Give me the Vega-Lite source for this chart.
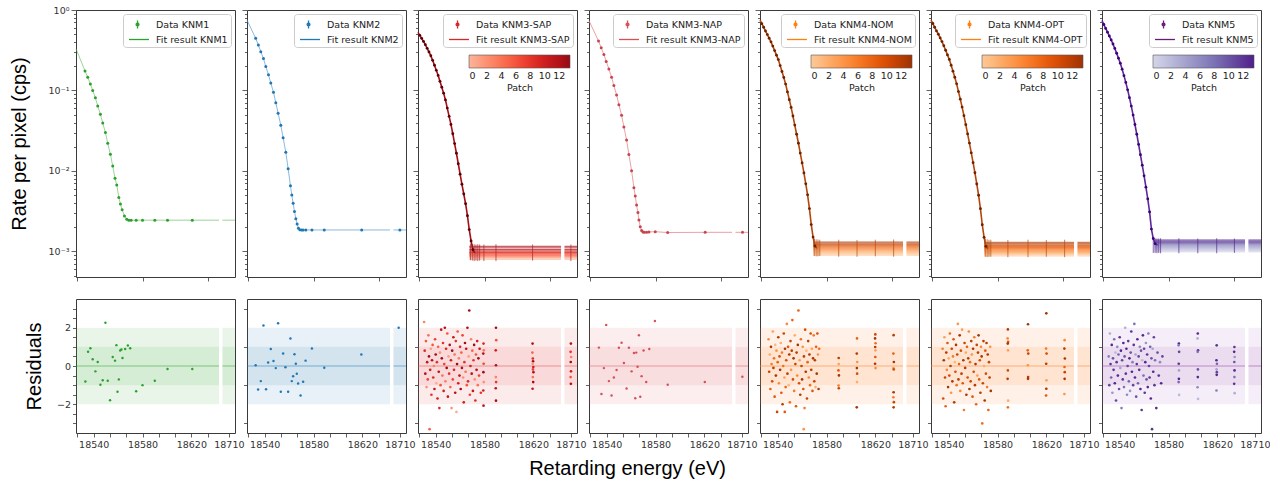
{
"$schema":"https://vega.github.io/schema/vega-lite/v6.json",
"background":"white",
"padding":{"left":8,"top":4,"right":5,"bottom":5},
"title":{"text":"Retarding energy (eV)","orient":"bottom","anchor":"middle","fontSize":20,"font":"Liberation Sans","fontWeight":"normal","color":"#000","offset":10,"dx":-12},
"config":{
 "view":{"stroke":"#3a3a3a","strokeWidth":1},
 "axis":{"domain":false,"grid":false,"tickColor":"#3a3a3a","tickWidth":0.8,"labelColor":"#333","labelFont":"DejaVu Sans","labelFontSize":9.5,"labelFlush":false,"labelPadding":2,"titleFont":"Liberation Sans","titleFontSize":20,"titleFontWeight":"normal","titleColor":"#000"}
},
"datasets":{
 "bands":[{"x1":18525.5,"x2":18642.7,"lo":-2,"hi":2},{"x1":18525.5,"x2":18642.7,"lo":-1,"hi":1},{"x1":18682,"x2":18715,"lo":-2,"hi":2},{"x1":18682,"x2":18715,"lo":-1,"hi":1}],
 "t1":[{"e":18525.5,"r":0.33,"s":1,"d":0},{"e":18532.9,"r":0.175,"s":1,"d":1},{"e":18535.1,"r":0.146,"s":1,"d":1},{"e":18537.3,"r":0.12,"s":1,"d":1},{"e":18539.2,"r":0.1,"s":1,"d":1},{"e":18541.4,"r":0.081,"s":1,"d":1},{"e":18543.3,"r":0.064,"s":1,"d":1},{"e":18545.5,"r":0.0506,"s":1,"d":1},{"e":18547.4,"r":0.0395,"s":1,"d":1},{"e":18549.6,"r":0.03,"s":1,"d":1},{"e":18551.5,"r":0.0221,"s":1,"d":1},{"e":18553.7,"r":0.0161,"s":1,"d":1},{"e":18555.6,"r":0.0115,"s":1,"d":1},{"e":18557.5,"r":0.0081,"s":1,"d":1},{"e":18558.9,"r":0.0067,"s":1,"d":1},{"e":18560.6,"r":0.0047,"s":1,"d":1},{"e":18561.9,"r":0.0039,"s":1,"d":1},{"e":18563.3,"r":0.0033,"s":1,"d":1},{"e":18565.2,"r":0.00276,"s":1,"d":1},{"e":18567.1,"r":0.00251,"s":1,"d":1},{"e":18568.8,"r":0.00245,"s":1,"d":1},{"e":18570.7,"r":0.00245,"s":1,"d":1},{"e":18574.8,"r":0.00245,"s":1,"d":1},{"e":18580,"r":0.00245,"s":1,"d":1},{"e":18590.1,"r":0.00245,"s":1,"d":1},{"e":18600.5,"r":0.00245,"s":1,"d":1},{"e":18620.8,"r":0.00245,"s":1,"d":1},{"e":18642.7,"r":0.00245,"s":1,"d":0},{"e":18682,"r":0.00245,"s":2,"d":0},{"e":18715,"r":0.00245,"s":2,"d":0}],
 "t2":[{"e":18525.5,"r":0.75,"s":1,"d":0},{"e":18532.6,"r":0.445,"s":1,"d":1},{"e":18534.8,"r":0.367,"s":1,"d":1},{"e":18536.8,"r":0.304,"s":1,"d":1},{"e":18539,"r":0.249,"s":1,"d":1},{"e":18540.9,"r":0.198,"s":1,"d":1},{"e":18543.1,"r":0.157,"s":1,"d":1},{"e":18545,"r":0.124,"s":1,"d":1},{"e":18547.2,"r":0.0949,"s":1,"d":1},{"e":18549.1,"r":0.0706,"s":1,"d":1},{"e":18551,"r":0.052,"s":1,"d":1},{"e":18553.2,"r":0.0369,"s":1,"d":1},{"e":18555.1,"r":0.0259,"s":1,"d":1},{"e":18557.3,"r":0.0171,"s":1,"d":1},{"e":18559.2,"r":0.0107,"s":1,"d":1},{"e":18561.1,"r":0.00657,"s":1,"d":1},{"e":18562.2,"r":0.00503,"s":1,"d":1},{"e":18563.3,"r":0.00397,"s":1,"d":1},{"e":18564.4,"r":0.00313,"s":1,"d":1},{"e":18565.5,"r":0.00256,"s":1,"d":1},{"e":18566.6,"r":0.0022,"s":1,"d":1},{"e":18567.7,"r":0.00194,"s":1,"d":1},{"e":18568.8,"r":0.00186,"s":1,"d":1},{"e":18570.2,"r":0.00185,"s":1,"d":1},{"e":18571.5,"r":0.00185,"s":1,"d":1},{"e":18573.7,"r":0.00185,"s":1,"d":1},{"e":18578.7,"r":0.00185,"s":1,"d":1},{"e":18588.8,"r":0.00185,"s":1,"d":1},{"e":18619.5,"r":0.00185,"s":1,"d":1},{"e":18642.7,"r":0.00185,"s":1,"d":0},{"e":18682,"r":0.00185,"s":2,"d":0},{"e":18710,"r":0.00185,"s":2,"d":1},{"e":18715,"r":0.00185,"s":2,"d":0}],
 "t4":[{"e":18525.5,"r":0.737,"s":1,"d":0},{"e":18533.3,"r":0.412,"s":1,"d":1},{"e":18535.5,"r":0.34,"s":1,"d":1},{"e":18537.7,"r":0.281,"s":1,"d":1},{"e":18539.6,"r":0.23,"s":1,"d":1},{"e":18541.8,"r":0.185,"s":1,"d":1},{"e":18544,"r":0.146,"s":1,"d":1},{"e":18545.9,"r":0.115,"s":1,"d":1},{"e":18548.1,"r":0.0879,"s":1,"d":1},{"e":18550,"r":0.0667,"s":1,"d":1},{"e":18552.2,"r":0.0492,"s":1,"d":1},{"e":18554.1,"r":0.0352,"s":1,"d":1},{"e":18556.3,"r":0.0243,"s":1,"d":1},{"e":18558.2,"r":0.016,"s":1,"d":1},{"e":18560.4,"r":0.0101,"s":1,"d":1},{"e":18562.3,"r":0.00621,"s":1,"d":1},{"e":18563.4,"r":0.00489,"s":1,"d":1},{"e":18564.5,"r":0.00378,"s":1,"d":1},{"e":18565.6,"r":0.00304,"s":1,"d":1},{"e":18566.4,"r":0.00246,"s":1,"d":1},{"e":18567.5,"r":0.00203,"s":1,"d":1},{"e":18568.6,"r":0.00182,"s":1,"d":1},{"e":18569.7,"r":0.00175,"s":1,"d":1},{"e":18570.8,"r":0.00173,"s":1,"d":1},{"e":18572.7,"r":0.00173,"s":1,"d":1},{"e":18574.6,"r":0.00175,"s":1,"d":1},{"e":18579.8,"r":0.00176,"s":1,"d":1},{"e":18590,"r":0.00172,"s":1,"d":1},{"e":18620.7,"r":0.00173,"s":1,"d":1},{"e":18642.7,"r":0.00173,"s":1,"d":0},{"e":18682,"r":0.00173,"s":2,"d":0},{"e":18710.5,"r":0.00173,"s":2,"d":1},{"e":18715,"r":0.00173,"s":2,"d":0}],
 "c3":[{"e":18525.5,"r":0.528,"d":0},{"e":18527,"r":0.484,"d":1},{"e":18528.5,"r":0.445,"d":1},{"e":18530,"r":0.407,"d":1},{"e":18531.5,"r":0.371,"d":1},{"e":18533,"r":0.334,"d":1},{"e":18534.5,"r":0.301,"d":1},{"e":18536,"r":0.27,"d":1},{"e":18537.5,"r":0.237,"d":1},{"e":18539,"r":0.206,"d":1},{"e":18540.5,"r":0.178,"d":1},{"e":18542,"r":0.154,"d":1},{"e":18543.5,"r":0.13,"d":1},{"e":18545,"r":0.11,"d":1},{"e":18546.5,"r":0.0927,"d":1},{"e":18548,"r":0.0763,"d":1},{"e":18549.5,"r":0.0604,"d":1},{"e":18551,"r":0.0478,"d":1},{"e":18552.5,"r":0.0379,"d":1},{"e":18554,"r":0.029,"d":1},{"e":18555.5,"r":0.0219,"d":1},{"e":18557,"r":0.0166,"d":1},{"e":18558.5,"r":0.0123,"d":1},{"e":18560,"r":0.00914,"d":1},{"e":18561.5,"r":0.00684,"d":1},{"e":18563,"r":0.00518,"d":1},{"e":18564.5,"r":0.00392,"d":1},{"e":18566,"r":0.00278,"d":1},{"e":18567.5,"r":0.00187,"d":1},{"e":18569,"r":0.00135,"d":1},{"e":18570.5,"r":0.00105,"d":1},{"e":18572,"r":0.00096,"d":0}],
 "c5":[{"e":18525.5,"r":0.75,"d":0},{"e":18527,"r":0.676,"d":1},{"e":18528.5,"r":0.61,"d":1},{"e":18530,"r":0.549,"d":1},{"e":18531.5,"r":0.495,"d":1},{"e":18533,"r":0.446,"d":1},{"e":18534.5,"r":0.402,"d":1},{"e":18536,"r":0.356,"d":1},{"e":18537.5,"r":0.313,"d":1},{"e":18539,"r":0.275,"d":1},{"e":18540.5,"r":0.242,"d":1},{"e":18542,"r":0.204,"d":1},{"e":18543.5,"r":0.172,"d":1},{"e":18545,"r":0.145,"d":1},{"e":18546.5,"r":0.12,"d":1},{"e":18548,"r":0.096,"d":1},{"e":18549.5,"r":0.0769,"d":1},{"e":18551,"r":0.0617,"d":1},{"e":18552.5,"r":0.0482,"d":1},{"e":18554,"r":0.0372,"d":1},{"e":18555.5,"r":0.0286,"d":1},{"e":18557,"r":0.0221,"d":1},{"e":18558.5,"r":0.0167,"d":1},{"e":18560,"r":0.0126,"d":1},{"e":18561.5,"r":0.00946,"d":1},{"e":18563,"r":0.00692,"d":1},{"e":18564.5,"r":0.00505,"d":1},{"e":18566,"r":0.00341,"d":1},{"e":18567.5,"r":0.00216,"d":1},{"e":18569,"r":0.00151,"d":1},{"e":18570.5,"r":0.00117,"d":1},{"e":18572,"r":0.0011,"d":0}],
 "c6":[{"e":18525.5,"r":0.75,"d":0},{"e":18527,"r":0.68,"d":1},{"e":18528.5,"r":0.61,"d":1},{"e":18530,"r":0.55,"d":1},{"e":18531.5,"r":0.5,"d":1},{"e":18533,"r":0.45,"d":1},{"e":18534.5,"r":0.405,"d":1},{"e":18536,"r":0.36,"d":1},{"e":18537.5,"r":0.316,"d":1},{"e":18539,"r":0.277,"d":1},{"e":18540.5,"r":0.243,"d":1},{"e":18542,"r":0.206,"d":1},{"e":18543.5,"r":0.174,"d":1},{"e":18545,"r":0.146,"d":1},{"e":18546.5,"r":0.121,"d":1},{"e":18548,"r":0.097,"d":1},{"e":18549.5,"r":0.078,"d":1},{"e":18551,"r":0.0622,"d":1},{"e":18552.5,"r":0.0487,"d":1},{"e":18554,"r":0.0376,"d":1},{"e":18555.5,"r":0.0289,"d":1},{"e":18557,"r":0.0222,"d":1},{"e":18558.5,"r":0.0168,"d":1},{"e":18560,"r":0.0127,"d":1},{"e":18561.5,"r":0.0095,"d":1},{"e":18563,"r":0.0069,"d":1},{"e":18564.5,"r":0.005,"d":1},{"e":18566,"r":0.0034,"d":1},{"e":18567.5,"r":0.00215,"d":1},{"e":18569,"r":0.0015,"d":1},{"e":18570.5,"r":0.00116,"d":1},{"e":18572,"r":0.00108,"d":0}],
 "c7":[{"e":18525.5,"r":0.74,"d":0},{"e":18527,"r":0.66,"d":1},{"e":18528.5,"r":0.59,"d":1},{"e":18530,"r":0.53,"d":1},{"e":18531.5,"r":0.475,"d":1},{"e":18533,"r":0.425,"d":1},{"e":18534.5,"r":0.378,"d":1},{"e":18536,"r":0.333,"d":1},{"e":18537.5,"r":0.29,"d":1},{"e":18539,"r":0.252,"d":1},{"e":18540.5,"r":0.218,"d":1},{"e":18542,"r":0.184,"d":1},{"e":18543.5,"r":0.153,"d":1},{"e":18545,"r":0.126,"d":1},{"e":18546.5,"r":0.102,"d":1},{"e":18548,"r":0.0815,"d":1},{"e":18549.5,"r":0.064,"d":1},{"e":18551,"r":0.0495,"d":1},{"e":18552.5,"r":0.0378,"d":1},{"e":18554,"r":0.0286,"d":1},{"e":18555.5,"r":0.0214,"d":1},{"e":18557,"r":0.0159,"d":1},{"e":18558.5,"r":0.0118,"d":1},{"e":18560,"r":0.0087,"d":1},{"e":18561.5,"r":0.0063,"d":1},{"e":18563,"r":0.0045,"d":1},{"e":18564.5,"r":0.0031,"d":1},{"e":18566,"r":0.0019,"d":1},{"e":18567.5,"r":0.00145,"d":1},{"e":18569,"r":0.00125,"d":1},{"e":18571,"r":0.0012,"d":0}],
 "p3":[{"p":0,"v":0.0008},{"p":1,"v":0.00083},{"p":2,"v":0.00085},{"p":3,"v":0.00087},{"p":4,"v":0.00089},{"p":5,"v":0.00091},{"p":6,"v":0.00093},{"p":7,"v":0.00095},{"p":8,"v":0.00097},{"p":9,"v":0.00099},{"p":10,"v":0.00102},{"p":11,"v":0.00106},{"p":12,"v":0.00111},{"p":13,"v":0.00116}],
 "p5":[{"p":0,"v":0.0009},{"p":1,"v":0.00093},{"p":2,"v":0.00096},{"p":3,"v":0.00099},{"p":4,"v":0.00102},{"p":5,"v":0.00105},{"p":6,"v":0.00108},{"p":7,"v":0.00111},{"p":8,"v":0.00114},{"p":9,"v":0.00117},{"p":10,"v":0.0012},{"p":11,"v":0.00123},{"p":12,"v":0.00127},{"p":13,"v":0.00131}],
 "p6":[{"p":0,"v":0.00088},{"p":1,"v":0.00091},{"p":2,"v":0.00094},{"p":3,"v":0.00097},{"p":4,"v":0.001},{"p":5,"v":0.00103},{"p":6,"v":0.00106},{"p":7,"v":0.00109},{"p":8,"v":0.00112},{"p":9,"v":0.00115},{"p":10,"v":0.00118},{"p":11,"v":0.00121},{"p":12,"v":0.00125},{"p":13,"v":0.0013}],
 "p7":[{"p":0,"v":0.00099},{"p":1,"v":0.00102},{"p":2,"v":0.00105},{"p":3,"v":0.00108},{"p":4,"v":0.00111},{"p":5,"v":0.00114},{"p":6,"v":0.00117},{"p":7,"v":0.0012},{"p":8,"v":0.00123},{"p":9,"v":0.00126},{"p":10,"v":0.00129},{"p":11,"v":0.00132},{"p":12,"v":0.00135},{"p":13,"v":0.00139}],
 "k3":[{"e":18568.5,"lo":0.00078,"hi":0.00125},{"e":18570,"lo":0.00077,"hi":0.00124},{"e":18571.5,"lo":0.00076,"hi":0.00123},{"e":18573,"lo":0.00077,"hi":0.00122},{"e":18574.5,"lo":0.00076,"hi":0.00123},{"e":18576,"lo":0.00077,"hi":0.00122},{"e":18579.5,"lo":0.00076,"hi":0.00122},{"e":18589.4,"lo":0.00076,"hi":0.00123},{"e":18619.4,"lo":0.00077,"hi":0.00122},{"e":18710,"lo":0.00076,"hi":0.00122}],
 "k5":[{"e":18570,"lo":0.00088,"hi":0.00145},{"e":18571.5,"lo":0.00087,"hi":0.00142},{"e":18573,"lo":0.00087,"hi":0.00141},{"e":18574.5,"lo":0.00088,"hi":0.0014},{"e":18590,"lo":0.00086,"hi":0.0014},{"e":18605,"lo":0.00086,"hi":0.00139},{"e":18620,"lo":0.00087,"hi":0.0014},{"e":18635,"lo":0.00086,"hi":0.00141}],
 "k6":[{"e":18570,"lo":0.00086,"hi":0.00145},{"e":18571.5,"lo":0.00085,"hi":0.00142},{"e":18573,"lo":0.00086,"hi":0.0014},{"e":18574.5,"lo":0.00086,"hi":0.0014},{"e":18588.5,"lo":0.00085,"hi":0.00139},{"e":18605,"lo":0.00085,"hi":0.0014},{"e":18620,"lo":0.00086,"hi":0.00139},{"e":18635,"lo":0.00085,"hi":0.0014}],
 "k7":[{"e":18567.5,"lo":0.00096,"hi":0.00147},{"e":18569,"lo":0.00096,"hi":0.00146},{"e":18570.5,"lo":0.00095,"hi":0.00145},{"e":18572,"lo":0.00096,"hi":0.00145},{"e":18573.5,"lo":0.00095,"hi":0.00146},{"e":18588.5,"lo":0.00095,"hi":0.00146},{"e":18604,"lo":0.00095,"hi":0.00145},{"e":18619.5,"lo":0.00095,"hi":0.00146},{"e":18634,"lo":0.00096,"hi":0.00145}],
 "r1":[{"e":18533.2,"r":-0.81},{"e":18535.4,"r":0.74},{"e":18537.3,"r":0.93},{"e":18539.2,"r":0.35},{"e":18541.4,"r":-0.28},{"e":18543.3,"r":0.21},{"e":18545.5,"r":-0.98},{"e":18547.4,"r":-0.74},{"e":18549.6,"r":2.26},{"e":18551.5,"r":-0.77},{"e":18553.4,"r":-1.79},{"e":18555.6,"r":0.47},{"e":18557.5,"r":0.28},{"e":18558.6,"r":1.09},{"e":18559.5,"r":-1.35},{"e":18560.6,"r":-0.7},{"e":18561.7,"r":0.81},{"e":18562.7,"r":0.86},{"e":18563.6,"r":0.42},{"e":18565.8,"r":0.89},{"e":18568,"r":1.07},{"e":18569.9,"r":0.93},{"e":18574.8,"r":-1.32},{"e":18580,"r":-1},{"e":18590.1,"r":-0.77},{"e":18600.5,"r":-0.16},{"e":18620.8,"r":-0.16}],
 "r2":[{"e":18532.6,"r":0.04},{"e":18534.6,"r":-1.23},{"e":18536.8,"r":-0.79},{"e":18539,"r":2.12},{"e":18541.1,"r":-1.21},{"e":18542.8,"r":0.18},{"e":18545,"r":0.89},{"e":18547.2,"r":0.26},{"e":18549.1,"r":-0.11},{"e":18551,"r":2.23},{"e":18553.2,"r":-1.35},{"e":18555.1,"r":0.65},{"e":18557,"r":-0.07},{"e":18559.2,"r":-1.35},{"e":18561.1,"r":1.44},{"e":18562.2,"r":-0.79},{"e":18563.3,"r":-0.54},{"e":18564.4,"r":0.61},{"e":18565.5,"r":0.12},{"e":18566.3,"r":-0.4},{"e":18567.4,"r":-0.91},{"e":18569.4,"r":-1.54},{"e":18571.5,"r":-0.82},{"e":18573.5,"r":0.28},{"e":18578.7,"r":0.91},{"e":18588.8,"r":-0.09},{"e":18619.2,"r":0.6},{"e":18709,"r":2.0}],
 "r4":[{"e":18533.6,"r":0.96},{"e":18535.7,"r":-1.46},{"e":18537.7,"r":-0.11},{"e":18539.6,"r":2.14},{"e":18541.8,"r":-0.79},{"e":18544,"r":-1.54},{"e":18545.9,"r":-0.6},{"e":18548.1,"r":-0.21},{"e":18550,"r":0.95},{"e":18552.2,"r":1.21},{"e":18554.1,"r":0.16},{"e":18556.3,"r":-1.18},{"e":18558.2,"r":0.95},{"e":18560.4,"r":-0.28},{"e":18562.3,"r":0.68},{"e":18563.4,"r":-1.68},{"e":18564.2,"r":0.7},{"e":18565.3,"r":-0.04},{"e":18566.4,"r":1.61},{"e":18567.5,"r":-1.61},{"e":18568.6,"r":-0.53},{"e":18570.2,"r":0.81},{"e":18572.4,"r":-0.84},{"e":18574.9,"r":0.89},{"e":18579.5,"r":2.35},{"e":18590,"r":-0.98},{"e":18620.4,"r":-0.84},{"e":18710.4,"r":-0.56}],
 "r3":[{"e":18530.5,"r":2.3,"p":3},{"e":18531,"r":0.8,"p":9},{"e":18531.5,"r":-0.4,"p":12},{"e":18532,"r":1.3,"p":6},{"e":18532.5,"r":-1.1,"p":2},{"e":18533,"r":0.2,"p":11},{"e":18533.5,"r":-0.7,"p":7},{"e":18534,"r":1.6,"p":4},{"e":18534.5,"r":0.5,"p":13},{"e":18535,"r":-3.3,"p":5},{"e":18535.5,"r":-0.2,"p":10},{"e":18536,"r":0.9,"p":1},{"e":18536.5,"r":-1.5,"p":8},{"e":18537,"r":0.3,"p":12},{"e":18537.5,"r":1.1,"p":6},{"e":18538,"r":-0.6,"p":9},{"e":18538.5,"r":0,"p":3},{"e":18539,"r":-1.2,"p":11},{"e":18539.5,"r":1.4,"p":7},{"e":18540,"r":0.6,"p":13},{"e":18540.5,"r":-0.9,"p":0},{"e":18541,"r":0.2,"p":8},{"e":18541.5,"r":-1.7,"p":10},{"e":18542,"r":1,"p":5},{"e":18542.5,"r":-0.3,"p":12},{"e":18543,"r":-2.2,"p":9},{"e":18543.5,"r":0.7,"p":2},{"e":18544,"r":-1,"p":6},{"e":18544.5,"r":1.9,"p":11},{"e":18545,"r":0.4,"p":13},{"e":18545.5,"r":-0.5,"p":4},{"e":18546,"r":1.2,"p":8},{"e":18546.5,"r":-1.3,"p":10},{"e":18547,"r":0.1,"p":7},{"e":18547.5,"r":2,"p":12},{"e":18548,"r":-0.8,"p":3},{"e":18548.5,"r":0.9,"p":9},{"e":18549,"r":-0.1,"p":13},{"e":18549.5,"r":1.7,"p":6},{"e":18550,"r":-1.6,"p":11},{"e":18550.5,"r":0.5,"p":1},{"e":18551,"r":-0.4,"p":8},{"e":18551.5,"r":1.1,"p":12},{"e":18552,"r":-1.1,"p":5},{"e":18552.5,"r":0.3,"p":10},{"e":18553,"r":-2.2,"p":2},{"e":18553.5,"r":0.8,"p":13},{"e":18554,"r":-0.7,"p":7},{"e":18554.5,"r":1.5,"p":11},{"e":18555,"r":-0.2,"p":9},{"e":18555.5,"r":0.6,"p":4},{"e":18556,"r":-1.4,"p":12},{"e":18556.5,"r":1.3,"p":8},{"e":18557,"r":-2.4,"p":0},{"e":18557.5,"r":0.1,"p":13},{"e":18558,"r":1.8,"p":6},{"e":18558.5,"r":-0.9,"p":10},{"e":18559,"r":0.4,"p":3},{"e":18559.5,"r":-0.5,"p":11},{"e":18560,"r":1,"p":9},{"e":18560.5,"r":-1.2,"p":13},{"e":18561,"r":0.7,"p":5},{"e":18561.5,"r":-0.1,"p":12},{"e":18562,"r":1.6,"p":7},{"e":18562.5,"r":-0.6,"p":2},{"e":18563,"r":-1.9,"p":10},{"e":18563.5,"r":0.2,"p":8},{"e":18564,"r":1.2,"p":13},{"e":18564.5,"r":-0.3,"p":4},{"e":18565,"r":0.9,"p":11},{"e":18565.5,"r":-1,"p":6},{"e":18566,"r":2,"p":12},{"e":18566.5,"r":-0.8,"p":9},{"e":18567,"r":0.5,"p":1},{"e":18567.5,"r":2.9,"p":13},{"e":18568,"r":-1.5,"p":7},{"e":18568.5,"r":0,"p":10},{"e":18569,"r":1.4,"p":3},{"e":18569.5,"r":-0.4,"p":12},{"e":18570,"r":0.8,"p":5},{"e":18570.5,"r":-1.3,"p":11},{"e":18571,"r":0.3,"p":8},{"e":18571.5,"r":1.1,"p":13},{"e":18572,"r":-0.7,"p":2},{"e":18572.5,"r":-1.8,"p":9},{"e":18573,"r":0.6,"p":6},{"e":18573.5,"r":-0.2,"p":12},{"e":18574,"r":1.3,"p":10},{"e":18574.5,"r":-1,"p":4},{"e":18575,"r":0.4,"p":13},{"e":18575.5,"r":-0.5,"p":7},{"e":18576,"r":0.9,"p":11},{"e":18577,"r":-1.4,"p":8},
  {"e":18579.2,"r":1.17,"p":9},{"e":18579.4,"r":0.82,"p":4},{"e":18579,"r":0.65,"p":12},{"e":18579.3,"r":0.12,"p":7},{"e":18579.1,"r":-0.32,"p":13},{"e":18579.4,"r":-0.84,"p":2},{"e":18579,"r":-1.28,"p":10},{"e":18579.2,"r":-2.07,"p":11},
  {"e":18589.4,"r":2,"p":13},{"e":18589.6,"r":1.35,"p":6},{"e":18589.2,"r":0.82,"p":10},{"e":18589.4,"r":0.04,"p":12},{"e":18589.3,"r":-0.58,"p":3},{"e":18589.5,"r":-0.84,"p":8},{"e":18589.2,"r":-1.16,"p":11},{"e":18589.4,"r":-1.81,"p":13},
  {"e":18619.4,"r":1.17,"p":12},{"e":18619.2,"r":0.7,"p":5},{"e":18619.6,"r":0.39,"p":9},{"e":18619.8,"r":0.25,"p":13},{"e":18619.5,"r":0.12,"p":2},{"e":18620,"r":-0.05,"p":10},{"e":18619.7,"r":-0.18,"p":7},{"e":18620.1,"r":-0.32,"p":12},{"e":18619.6,"r":-0.58,"p":4},{"e":18619.9,"r":-0.84,"p":13},{"e":18619.4,"r":-1.19,"p":11},
  {"e":18710,"r":1.17,"p":12},{"e":18709.8,"r":0.74,"p":8},{"e":18710.2,"r":0.47,"p":3},{"e":18709.9,"r":0.21,"p":13},{"e":18710.1,"r":-0.28,"p":10},{"e":18709.8,"r":-0.58,"p":6},{"e":18710,"r":-0.93,"p":12}],
 "r5":[{"e":18532.5,"r":1.4,"p":5},{"e":18533,"r":-0.3,"p":11},{"e":18533.5,"r":0.6,"p":2},{"e":18534,"r":-1.2,"p":8},{"e":18534.5,"r":1,"p":13},{"e":18535,"r":0.1,"p":6},{"e":18535.5,"r":-0.8,"p":10},{"e":18536,"r":1.8,"p":3},{"e":18536.5,"r":-0.1,"p":12},{"e":18537,"r":0.4,"p":7},{"e":18537.5,"r":-1.6,"p":9},{"e":18538,"r":1.1,"p":1},{"e":18538.5,"r":-0.5,"p":13},{"e":18539,"r":0.8,"p":4},{"e":18539.5,"r":-2.4,"p":11},{"e":18540,"r":0.2,"p":8},{"e":18540.5,"r":1.5,"p":12},{"e":18541,"r":-0.9,"p":5},{"e":18541.5,"r":0.5,"p":10},{"e":18542,"r":-0.2,"p":13},{"e":18542.5,"r":1.2,"p":2},{"e":18543,"r":-1.4,"p":9},{"e":18543.5,"r":0.7,"p":6},{"e":18544,"r":-2,"p":12},{"e":18544.5,"r":0,"p":7},{"e":18545,"r":1.7,"p":11},{"e":18545.5,"r":-0.6,"p":3},{"e":18545.8,"r":-2.4,"p":9},{"e":18546,"r":0.9,"p":13},{"e":18546.5,"r":-1.1,"p":8},{"e":18547,"r":0.3,"p":10},{"e":18547.5,"r":2.2,"p":5},{"e":18548,"r":-0.4,"p":12},{"e":18548.5,"r":1,"p":9},{"e":18549,"r":-1,"p":1},{"e":18549.5,"r":0.6,"p":13},{"e":18550,"r":-1.9,"p":7},{"e":18550.5,"r":1.3,"p":11},{"e":18551,"r":-0.2,"p":4},{"e":18551.5,"r":0.8,"p":12},{"e":18552,"r":2.4,"p":8},{"e":18552.5,"r":-0.7,"p":10},{"e":18553,"r":0.4,"p":13},{"e":18553.5,"r":-1.3,"p":6},{"e":18554,"r":1.6,"p":2},{"e":18554.5,"r":0.1,"p":11},{"e":18555,"r":-2.1,"p":9},{"e":18555.5,"r":0.7,"p":12},{"e":18556,"r":-0.5,"p":5},{"e":18556.5,"r":1.1,"p":13},{"e":18557,"r":2.9,"p":8},{"e":18557.5,"r":-0.9,"p":10},{"e":18558,"r":0.3,"p":3},{"e":18558.5,"r":-1.5,"p":12},{"e":18559,"r":1.4,"p":7},{"e":18559.5,"r":0,"p":11},{"e":18560,"r":-0.7,"p":13},{"e":18560.5,"r":1,"p":4},{"e":18561,"r":-1.2,"p":9},{"e":18561.3,"r":-3.3,"p":4},{"e":18561.5,"r":0.5,"p":12},{"e":18562,"r":-2.2,"p":6},{"e":18562.5,"r":1.9,"p":10},{"e":18563,"r":-0.3,"p":13},{"e":18563.5,"r":0.8,"p":1},{"e":18564,"r":-1.7,"p":11},{"e":18564.5,"r":0.2,"p":8},{"e":18565,"r":1.3,"p":12},{"e":18565.5,"r":-0.6,"p":5},{"e":18566,"r":0.6,"p":13},{"e":18566.5,"r":-1,"p":7},{"e":18567,"r":1.7,"p":10},{"e":18567.5,"r":-0.2,"p":12},{"e":18568,"r":0.9,"p":3},{"e":18568.5,"r":-1.3,"p":9},{"e":18569,"r":0.4,"p":13},{"e":18569.5,"r":1.6,"p":6},{"e":18570,"r":-0.8,"p":11},{"e":18570.5,"r":0.3,"p":12},{"e":18571,"r":-1.1,"p":2},{"e":18571.5,"r":1,"p":8},{"e":18572,"r":-0.4,"p":13},{"e":18572.5,"r":1.7,"p":10},{"e":18573,"r":0.6,"p":4},{"e":18573.5,"r":-1.2,"p":12},{"e":18574,"r":0.9,"p":7},
  {"e":18590,"r":0.42,"p":12},{"e":18589.8,"r":-0.23,"p":9},{"e":18590.2,"r":-0.49,"p":13},{"e":18589.9,"r":-1.02,"p":6},{"e":18590.1,"r":-1.16,"p":11},{"e":18590,"r":0.1,"p":3},
  {"e":18605,"r":1.44,"p":8},{"e":18604.8,"r":0.65,"p":12},{"e":18605.2,"r":0.21,"p":4},{"e":18604.9,"r":-0.11,"p":13},{"e":18605.1,"r":-0.4,"p":10},{"e":18605,"r":-0.84,"p":2},{"e":18604.8,"r":-2.16,"p":13},
  {"e":18620,"r":1.65,"p":11},{"e":18619.8,"r":1.44,"p":13},{"e":18620.2,"r":1.19,"p":7},{"e":18619.9,"r":0.99,"p":12},{"e":18620.1,"r":0.82,"p":3},{"e":18620,"r":0.47,"p":9},{"e":18619.8,"r":0.12,"p":13},{"e":18620.2,"r":-0.11,"p":5},
  {"e":18635,"r":1.61,"p":12},{"e":18634.8,"r":0.65,"p":8},{"e":18635.2,"r":0.21,"p":13},{"e":18634.9,"r":-0.11,"p":4},{"e":18635.1,"r":-0.18,"p":10},{"e":18635,"r":-1.37,"p":13},{"e":18634.8,"r":-1.63,"p":6},{"e":18635.2,"r":-1.89,"p":11},{"e":18635,"r":-2.16,"p":12}],
 "r6":[{"e":18535,"r":0.9,"p":6},{"e":18535.5,"r":-1.7,"p":10},{"e":18536,"r":0.3,"p":13},{"e":18536.5,"r":1.5,"p":3},{"e":18537,"r":-0.6,"p":11},{"e":18537.5,"r":-2.1,"p":8},{"e":18538,"r":0.7,"p":12},{"e":18538.5,"r":-0.2,"p":5},{"e":18539,"r":1.2,"p":9},{"e":18539.5,"r":-1.1,"p":13},{"e":18540,"r":0.4,"p":2},{"e":18540.5,"r":-0.5,"p":10},{"e":18541,"r":1.7,"p":7},{"e":18541.5,"r":0,"p":12},{"e":18542,"r":-1.4,"p":4},{"e":18542.5,"r":0.9,"p":11},{"e":18543,"r":-0.8,"p":13},{"e":18543.5,"r":0.5,"p":6},{"e":18544,"r":1.4,"p":9},{"e":18544.5,"r":-1.9,"p":12},{"e":18545,"r":0.2,"p":1},{"e":18545.5,"r":-0.3,"p":10},{"e":18546,"r":1.1,"p":13},{"e":18546.5,"r":-1,"p":7},{"e":18547,"r":0.6,"p":11},{"e":18547.5,"r":2.2,"p":4},{"e":18548,"r":-0.7,"p":12},{"e":18548.5,"r":0.1,"p":8},{"e":18549,"r":1.6,"p":13},{"e":18549.5,"r":-1.3,"p":5},{"e":18550,"r":0.8,"p":10},{"e":18550.5,"r":-0.4,"p":12},{"e":18551,"r":1.9,"p":3},{"e":18551.5,"r":-0.9,"p":9},{"e":18552,"r":0.3,"p":13},{"e":18552.5,"r":-2.3,"p":6},{"e":18553,"r":1.2,"p":11},{"e":18553.5,"r":-0.1,"p":12},{"e":18554,"r":0.7,"p":2},{"e":18554.5,"r":-1.5,"p":13},{"e":18555,"r":1,"p":8},{"e":18555.5,"r":-0.6,"p":10},{"e":18556,"r":0.4,"p":12},{"e":18556.5,"r":1.8,"p":5},{"e":18557,"r":-1.2,"p":13},{"e":18557.5,"r":0.2,"p":7},{"e":18558,"r":-0.8,"p":11},{"e":18558.5,"r":1.3,"p":12},{"e":18559,"r":0.6,"p":4},{"e":18559.5,"r":-1.6,"p":9},{"e":18560,"r":0.9,"p":13},{"e":18560.5,"r":-0.3,"p":10},{"e":18561,"r":1.5,"p":6},{"e":18561.5,"r":-1,"p":12},{"e":18562,"r":0.1,"p":13},{"e":18562.5,"r":-2,"p":8},{"e":18563,"r":1.1,"p":11},{"e":18563.5,"r":-0.5,"p":3},{"e":18564,"r":0.7,"p":12},{"e":18564.5,"r":1.6,"p":13},{"e":18565,"r":-0.7,"p":9},{"e":18565.5,"r":0.3,"p":10},{"e":18566,"r":-1.4,"p":12},{"e":18566.5,"r":1,"p":5},{"e":18567,"r":0.5,"p":13},{"e":18567.5,"r":-3,"p":7},{"e":18568,"r":-0.9,"p":11},{"e":18568.5,"r":1.3,"p":12},{"e":18569,"r":0,"p":2},{"e":18569.5,"r":-1.8,"p":13},{"e":18570,"r":0.8,"p":9},{"e":18570.5,"r":-0.4,"p":10},{"e":18571,"r":1.2,"p":12},{"e":18571.5,"r":-1.1,"p":6},{"e":18572,"r":0.6,"p":13},{"e":18572.5,"r":-2.3,"p":8},{"e":18573,"r":0.2,"p":11},{"e":18573.5,"r":-0.6,"p":12},{"e":18574,"r":1,"p":4},{"e":18574.5,"r":-1.3,"p":13},
  {"e":18588.5,"r":1.91,"p":12},{"e":18588.3,"r":1.44,"p":5},{"e":18588.7,"r":1.26,"p":9},{"e":18588.4,"r":1.17,"p":13},{"e":18588.6,"r":0.82,"p":3},{"e":18588.5,"r":-0.23,"p":10},{"e":18588.3,"r":-0.67,"p":12},{"e":18588.7,"r":-1.81,"p":2},{"e":18588.5,"r":-2.16,"p":7},
  {"e":18605,"r":2.18,"p":13},{"e":18604.8,"r":0.82,"p":8},{"e":18605.2,"r":0.65,"p":11},{"e":18604.9,"r":0.04,"p":4},{"e":18605.1,"r":-0.58,"p":12},{"e":18605,"r":-0.67,"p":13},
  {"e":18620,"r":2.75,"p":13},{"e":18619.8,"r":0.91,"p":6},{"e":18620.2,"r":0.65,"p":10},{"e":18619.9,"r":0.12,"p":12},{"e":18620.1,"r":-0.75,"p":3},{"e":18620,"r":-1.19,"p":13},{"e":18619.8,"r":-1.54,"p":9},
  {"e":18635,"r":1.35,"p":5},{"e":18634.8,"r":0.91,"p":12},{"e":18635.2,"r":0.39,"p":13},{"e":18634.9,"r":-0.05,"p":8},{"e":18635.1,"r":-0.32,"p":11},{"e":18635,"r":-0.67,"p":13},{"e":18634.8,"r":-1.46,"p":4}],
 "r7":[{"e":18531,"r":0.5,"p":7},{"e":18531.5,"r":-1,"p":11},{"e":18532,"r":1.7,"p":3},{"e":18532.5,"r":0.1,"p":12},{"e":18533,"r":-0.6,"p":9},{"e":18533.5,"r":1.1,"p":13},{"e":18534,"r":-1.4,"p":5},{"e":18534.5,"r":0.4,"p":10},{"e":18535,"r":-0.2,"p":12},{"e":18535.5,"r":1.4,"p":8},{"e":18536,"r":-0.9,"p":13},{"e":18536.5,"r":0.7,"p":2},{"e":18537,"r":-1.8,"p":11},{"e":18537.5,"r":0.2,"p":12},{"e":18538,"r":1,"p":6},{"e":18538.5,"r":-0.5,"p":13},{"e":18539,"r":0.6,"p":9},{"e":18539.5,"r":-1.2,"p":10},{"e":18540,"r":1.5,"p":12},{"e":18540.5,"r":-0.1,"p":4},{"e":18541,"r":0.8,"p":13},{"e":18541.5,"r":-2.2,"p":7},{"e":18542,"r":0.3,"p":11},{"e":18542.5,"r":-0.7,"p":12},{"e":18543,"r":1.2,"p":13},{"e":18543.5,"r":-1.1,"p":8},{"e":18544,"r":0.5,"p":10},{"e":18544.5,"r":2,"p":3},{"e":18545,"r":-0.4,"p":12},{"e":18545.5,"r":0.9,"p":13},{"e":18546,"r":-1.5,"p":6},{"e":18546.5,"r":0,"p":11},{"e":18547,"r":1.3,"p":12},{"e":18547.5,"r":-0.8,"p":9},{"e":18548,"r":0.4,"p":13},{"e":18548.5,"r":-1.3,"p":5},{"e":18549,"r":0.7,"p":10},{"e":18549.5,"r":1.8,"p":12},{"e":18550,"r":-0.3,"p":13},{"e":18550.5,"r":0.2,"p":7},{"e":18551,"r":-1,"p":11},{"e":18551.5,"r":1.1,"p":12},{"e":18552,"r":2.2,"p":8},{"e":18552.5,"r":-0.6,"p":13},{"e":18553,"r":0.6,"p":4},{"e":18553.5,"r":-1.6,"p":10},{"e":18554,"r":0.1,"p":12},{"e":18554.5,"r":1.4,"p":13},{"e":18555,"r":-0.9,"p":9},{"e":18555.5,"r":0.5,"p":11},{"e":18556,"r":-0.2,"p":12},{"e":18556.5,"r":1,"p":6},{"e":18557,"r":-1.2,"p":13},{"e":18557.5,"r":0.8,"p":10},{"e":18558,"r":-2.3,"p":12},{"e":18558.5,"r":0.3,"p":2},{"e":18559,"r":1.6,"p":13},{"e":18559.5,"r":-0.5,"p":8},{"e":18560,"r":0.9,"p":11},{"e":18560.5,"r":-1.4,"p":12},{"e":18561,"r":0.2,"p":13},{"e":18561.5,"r":1.2,"p":5},{"e":18562,"r":-0.7,"p":10},{"e":18562.5,"r":0.6,"p":12},{"e":18563,"r":-1.1,"p":13},{"e":18563.5,"r":1.7,"p":7},{"e":18564,"r":0,"p":11},{"e":18564.5,"r":-0.6,"p":12},{"e":18565,"r":1,"p":9},{"e":18565.5,"r":-1.7,"p":13},{"e":18566,"r":0.4,"p":10},{"e":18566.5,"r":-3.3,"p":12},{"e":18567,"r":0.9,"p":4},{"e":18567.5,"r":-0.3,"p":13},{"e":18568,"r":1.5,"p":11},{"e":18568.5,"r":-1,"p":12},{"e":18569,"r":0.3,"p":8},{"e":18570,"r":-2.2,"p":13},{"e":18571,"r":0.7,"p":10},{"e":18572,"r":-0.5,"p":12},{"e":18573,"r":0.2,"p":6},{"e":18574,"r":-0.9,"p":13},{"e":18575,"r":0.5,"p":11},
  {"e":18588.5,"r":1.17,"p":13},{"e":18588.3,"r":1.08,"p":7},{"e":18588.7,"r":0.74,"p":11},{"e":18588.4,"r":0.12,"p":12},{"e":18588.6,"r":-0.23,"p":4},{"e":18588.5,"r":-0.67,"p":13},{"e":18588.3,"r":-0.84,"p":9},{"e":18588.7,"r":-1.51,"p":2},
  {"e":18604,"r":1.7,"p":13},{"e":18603.8,"r":1.44,"p":3},{"e":18604.2,"r":0.82,"p":12},{"e":18603.9,"r":0.74,"p":8},{"e":18604.1,"r":-0.18,"p":10},{"e":18604,"r":-0.58,"p":13},{"e":18603.8,"r":-1.11,"p":6},{"e":18604.2,"r":-1.72,"p":2},
  {"e":18619.5,"r":1.08,"p":12},{"e":18619.3,"r":0.3,"p":13},{"e":18619.7,"r":0.12,"p":9},{"e":18619.4,"r":-0.18,"p":4},{"e":18619.6,"r":-0.32,"p":11},{"e":18619.5,"r":-0.46,"p":13},{"e":18619.3,"r":-1.28,"p":7},
  {"e":18634,"r":0.99,"p":12},{"e":18633.8,"r":0.74,"p":13},{"e":18634.2,"r":0.47,"p":5},{"e":18633.9,"r":0.21,"p":10},{"e":18634.1,"r":-0.23,"p":13},{"e":18634,"r":-0.58,"p":8},{"e":18633.8,"r":-0.93,"p":12},{"e":18634.2,"r":-1.42,"p":3}]
},
"spacing":16,
"resolve":{"scale":{"color":"independent","shape":"independent"},"legend":{"color":"independent","shape":"independent"}},
"vconcat":[
{"hconcat":[
 {"width":159,"height":267,"layer":[
  {"data":{"name":"t1"},"mark":{"type":"line","color":"#5cb85c","strokeWidth":1,"opacity":0.6},"encoding":{"x":{"field":"e","type":"quantitative","scale":{"domain":[18525.5,18643.5,18706,18715],"range":[0,144,148,159],"nice":false,"zero":false},"axis":{"values":[18526.67,18540,18553.33,18566.67,18580,18593.33,18606.67,18620,18633.33,18710],"labels":false,"title":null,"tickSize":4}},"y":{"field":"r","type":"quantitative","title":"Rate per pixel (cps)","scale":{"type":"log","domain":[0.000482,1],"nice":false},"axis":{"values":[0.0005,0.0006,0.0007,0.0008,0.0009,0.001,0.002,0.003,0.004,0.005,0.006,0.007,0.008,0.009,0.01,0.02,0.03,0.04,0.05,0.06,0.07,0.08,0.09,0.1,0.2,0.3,0.4,0.5,0.6,0.7,0.8,0.9,1],"labelOverlap":false,"labelExpr":"datum.value==1?'10⁰':datum.value==0.1?'10⁻¹':datum.value==0.01?'10⁻²':datum.value==0.001?'10⁻³':''","tickSize":{"condition":{"test":"datum.value==1||datum.value==0.1||datum.value==0.01||datum.value==0.001","value":5},"value":2.5},"title":"Rate per pixel (cps)","titlePadding":19}},"detail":{"field":"s","type":"nominal"}}},
  {"data":{"name":"t1"},"transform":[{"filter":"datum.d==1"}],"mark":{"type":"point","filled":true,"color":"#2ca02c","size":9,"opacity":1},"encoding":{"x":{"field":"e","type":"quantitative","scale":{"domain":[18525.5,18643.5,18706,18715],"range":[0,144,148,159],"nice":false,"zero":false},"title":null},"y":{"field":"r","type":"quantitative","scale":{"type":"log","domain":[0.000482,1],"nice":false},"title":"Rate per pixel (cps)"}}},
  {"data":{"values":[{"k":"Data  KNM1"},{"k":"Fit result KNM1"}]},"mark":{"type":"point","filled":false,"color":"#2ca02c","strokeWidth":1.3,"opacity":0},"encoding":{"shape":{"field":"k","type":"nominal","scale":{"domain":["Data  KNM1","Fit result KNM1"],"range":["M0.62,-0.6V0.6M0.4,0A0.22,0.22,0,1,0,0.84,0A0.22,0.22,0,1,0,0.4,0","M-0.69,0H2.38"]},"legend":{"title":null,"orient":"top-right","offset":4,"padding":3,"strokeColor":"#cccccc","fillColor":"#ffffff","cornerRadius":3,"labelFont":"DejaVu Sans","labelFontSize":9.5,"labelColor":"#222","labelAlign":"left","symbolSize":169,"labelOffset":15,"rowPadding":1,"symbolStrokeWidth":1.3,"encode":{"symbols":{"update":{"fill":{"value":"#2ca02c"},"stroke":[{"test":"indexof(datum.value,'Fit')==0","value":"#7cc87a"},{"value":"#2ca02c"}],"strokeWidth":{"value":1.3},"opacity":{"value":1}}}}}}}}
 ]},
 {"width":159,"height":267,"layer":[
  {"data":{"name":"t2"},"mark":{"type":"line","color":"#5b9bd0","strokeWidth":1,"opacity":0.7},"encoding":{"x":{"field":"e","type":"quantitative","scale":{"domain":[18525.5,18643.5,18706,18715],"range":[0,144,148,159],"nice":false,"zero":false},"axis":{"values":[18526.67,18540,18553.33,18566.67,18580,18593.33,18606.67,18620,18633.33,18710],"labels":false,"title":null,"tickSize":4}},"y":{"field":"r","type":"quantitative","scale":{"type":"log","domain":[0.000482,1],"nice":false},"axis":{"values":[0.0005,0.0006,0.0007,0.0008,0.0009,0.001,0.002,0.003,0.004,0.005,0.006,0.007,0.008,0.009,0.01,0.02,0.03,0.04,0.05,0.06,0.07,0.08,0.09,0.1,0.2,0.3,0.4,0.5,0.6,0.7,0.8,0.9,1],"labels":false,"tickSize":{"condition":{"test":"datum.value==1||datum.value==0.1||datum.value==0.01||datum.value==0.001","value":5},"value":2.5},"title":null}},"detail":{"field":"s","type":"nominal"}}},
  {"data":{"name":"t2"},"transform":[{"filter":"datum.d==1"}],"mark":{"type":"point","filled":true,"color":"#1f77b4","size":9,"opacity":1},"encoding":{"x":{"field":"e","type":"quantitative","scale":{"domain":[18525.5,18643.5,18706,18715],"range":[0,144,148,159],"nice":false,"zero":false},"title":null},"y":{"field":"r","type":"quantitative","scale":{"type":"log","domain":[0.000482,1],"nice":false},"title":null}}},
  {"data":{"values":[{"k":"Data  KNM2"},{"k":"Fit result KNM2"}]},"mark":{"type":"point","filled":false,"color":"#1f77b4","strokeWidth":1.3,"opacity":0},"encoding":{"shape":{"field":"k","type":"nominal","scale":{"domain":["Data  KNM2","Fit result KNM2"],"range":["M0.62,-0.6V0.6M0.4,0A0.22,0.22,0,1,0,0.84,0A0.22,0.22,0,1,0,0.4,0","M-0.69,0H2.38"]},"legend":{"title":null,"orient":"top-right","offset":4,"padding":3,"strokeColor":"#cccccc","fillColor":"#ffffff","cornerRadius":3,"labelFont":"DejaVu Sans","labelFontSize":9.5,"labelColor":"#222","labelAlign":"left","symbolSize":169,"labelOffset":15,"rowPadding":1,"symbolStrokeWidth":1.3,"encode":{"symbols":{"update":{"fill":{"value":"#1f77b4"},"stroke":[{"test":"indexof(datum.value,'Fit')==0","value":"#7fb0d8"},{"value":"#1f77b4"}],"strokeWidth":{"value":1.3},"opacity":{"value":1}}}}}}}}
 ]},
 {"width":159,"height":267,"layer":[
  {"data":{"name":"p3"},"mark":{"type":"rule","strokeWidth":0.8},"encoding":{"x":{"datum":18567.5,"type":"quantitative","scale":{"domain":[18525.5,18643.5,18706,18715],"range":[0,144,148,159],"nice":false,"zero":false},"title":null},"x2":{"datum":18642.7},"y":{"field":"v","type":"quantitative","scale":{"type":"log","domain":[0.000482,1],"nice":false},"title":null},"color":{"field":"p","type":"quantitative","scale":{"domain":[-0.5,13.5],"scheme":{"name":"reds","extent":[0.1,1]}},"legend":{"orient":"none","legendX":51,"legendY":45,"direction":"horizontal","gradientLength":101,"gradientThickness":13,"title":"Patch","titleOrient":"bottom","titleAnchor":"middle","titleFont":"DejaVu Sans","titleFontSize":9.5,"titleFontWeight":"normal","titleColor":"#222","titlePadding":2,"labelFont":"DejaVu Sans","labelFontSize":9.5,"labelColor":"#222","values":[0,2,4,6,8,10,12],"gradientStrokeColor":"#555","gradientStrokeWidth":0.6,"padding":0,"labelOverlap":false,"labelOffset":3}}}},
  {"data":{"name":"p3"},"mark":{"type":"rule","strokeWidth":0.8},"encoding":{"x":{"datum":18682,"type":"quantitative","scale":{"domain":[18525.5,18643.5,18706,18715],"range":[0,144,148,159],"nice":false,"zero":false},"title":null},"x2":{"datum":18715},"y":{"field":"v","type":"quantitative","scale":{"type":"log","domain":[0.000482,1],"nice":false},"title":null},"color":{"field":"p","type":"quantitative","scale":{"domain":[-0.5,13.5],"scheme":{"name":"reds","extent":[0.1,1]}}}}},
  {"data":{"name":"k3"},"mark":{"type":"rule","color":"#a8262c","strokeWidth":1,"opacity":0.7},"encoding":{"x":{"field":"e","type":"quantitative","scale":{"domain":[18525.5,18643.5,18706,18715],"range":[0,144,148,159],"nice":false,"zero":false},"title":null},"y":{"field":"lo","type":"quantitative","scale":{"type":"log","domain":[0.000482,1],"nice":false},"title":null},"y2":{"field":"hi"}}},
  {"data":{"name":"c3"},"mark":{"type":"line","color":"#a50f15","strokeWidth":1.6},"encoding":{"x":{"field":"e","type":"quantitative","scale":{"domain":[18525.5,18643.5,18706,18715],"range":[0,144,148,159],"nice":false,"zero":false},"axis":{"values":[18526.67,18540,18553.33,18566.67,18580,18593.33,18606.67,18620,18633.33,18710],"labels":false,"title":null,"tickSize":4}},"y":{"field":"r","type":"quantitative","scale":{"type":"log","domain":[0.000482,1],"nice":false},"axis":{"values":[0.0005,0.0006,0.0007,0.0008,0.0009,0.001,0.002,0.003,0.004,0.005,0.006,0.007,0.008,0.009,0.01,0.02,0.03,0.04,0.05,0.06,0.07,0.08,0.09,0.1,0.2,0.3,0.4,0.5,0.6,0.7,0.8,0.9,1],"labels":false,"tickSize":{"condition":{"test":"datum.value==1||datum.value==0.1||datum.value==0.01||datum.value==0.001","value":5},"value":2.5},"title":null}}}},
  {"data":{"name":"c3"},"transform":[{"filter":"datum.d==1"}],"mark":{"type":"point","filled":true,"color":"#5a0008","size":8,"opacity":1},"encoding":{"x":{"field":"e","type":"quantitative","scale":{"domain":[18525.5,18643.5,18706,18715],"range":[0,144,148,159],"nice":false,"zero":false},"title":null},"y":{"field":"r","type":"quantitative","scale":{"type":"log","domain":[0.000482,1],"nice":false},"title":null}}},
  {"data":{"values":[{"k":"Data  KNM3-SAP"},{"k":"Fit result KNM3-SAP"}]},"mark":{"type":"point","filled":false,"color":"#d62728","strokeWidth":1.3,"opacity":0},"encoding":{"shape":{"field":"k","type":"nominal","scale":{"domain":["Data  KNM3-SAP","Fit result KNM3-SAP"],"range":["M0.62,-0.6V0.6M0.4,0A0.22,0.22,0,1,0,0.84,0A0.22,0.22,0,1,0,0.4,0","M-0.69,0H2.38"]},"legend":{"title":null,"orient":"top-right","offset":4,"padding":3,"strokeColor":"#cccccc","fillColor":"#ffffff","cornerRadius":3,"labelFont":"DejaVu Sans","labelFontSize":9.5,"labelColor":"#222","labelAlign":"left","symbolSize":169,"labelOffset":15,"rowPadding":1,"symbolStrokeWidth":1.3,"encode":{"symbols":{"update":{"fill":{"value":"#d62728"},"stroke":[{"test":"indexof(datum.value,'Fit')==0","value":"#f19a9a"},{"value":"#d62728"}],"strokeWidth":{"value":1.3},"opacity":{"value":1}}}}}}}}
 ]},
 {"width":159,"height":267,"layer":[
  {"data":{"name":"t4"},"mark":{"type":"line","color":"#e58a8e","strokeWidth":1,"opacity":0.8},"encoding":{"x":{"field":"e","type":"quantitative","scale":{"domain":[18525.5,18643.5,18706,18715],"range":[0,144,148,159],"nice":false,"zero":false},"axis":{"values":[18526.67,18540,18553.33,18566.67,18580,18593.33,18606.67,18620,18633.33,18710],"labels":false,"title":null,"tickSize":4}},"y":{"field":"r","type":"quantitative","scale":{"type":"log","domain":[0.000482,1],"nice":false},"axis":{"values":[0.0005,0.0006,0.0007,0.0008,0.0009,0.001,0.002,0.003,0.004,0.005,0.006,0.007,0.008,0.009,0.01,0.02,0.03,0.04,0.05,0.06,0.07,0.08,0.09,0.1,0.2,0.3,0.4,0.5,0.6,0.7,0.8,0.9,1],"labels":false,"tickSize":{"condition":{"test":"datum.value==1||datum.value==0.1||datum.value==0.01||datum.value==0.001","value":5},"value":2.5},"title":null}},"detail":{"field":"s","type":"nominal"}}},
  {"data":{"name":"t4"},"transform":[{"filter":"datum.d==1"}],"mark":{"type":"point","filled":true,"color":"#c8444e","size":9,"opacity":1},"encoding":{"x":{"field":"e","type":"quantitative","scale":{"domain":[18525.5,18643.5,18706,18715],"range":[0,144,148,159],"nice":false,"zero":false},"title":null},"y":{"field":"r","type":"quantitative","scale":{"type":"log","domain":[0.000482,1],"nice":false},"title":null}}},
  {"data":{"values":[{"k":"Data  KNM3-NAP"},{"k":"Fit result KNM3-NAP"}]},"mark":{"type":"point","filled":false,"color":"#d6505a","strokeWidth":1.3,"opacity":0},"encoding":{"shape":{"field":"k","type":"nominal","scale":{"domain":["Data  KNM3-NAP","Fit result KNM3-NAP"],"range":["M0.62,-0.6V0.6M0.4,0A0.22,0.22,0,1,0,0.84,0A0.22,0.22,0,1,0,0.4,0","M-0.69,0H2.38"]},"legend":{"title":null,"orient":"top-right","offset":4,"padding":3,"strokeColor":"#cccccc","fillColor":"#ffffff","cornerRadius":3,"labelFont":"DejaVu Sans","labelFontSize":9.5,"labelColor":"#222","labelAlign":"left","symbolSize":169,"labelOffset":15,"rowPadding":1,"symbolStrokeWidth":1.3,"encode":{"symbols":{"update":{"fill":{"value":"#d6505a"},"stroke":[{"test":"indexof(datum.value,'Fit')==0","value":"#eea4a9"},{"value":"#d6505a"}],"strokeWidth":{"value":1.3},"opacity":{"value":1}}}}}}}}
 ]},
 {"width":159,"height":267,"layer":[
  {"data":{"name":"p5"},"mark":{"type":"rule","strokeWidth":0.8},"encoding":{"x":{"datum":18569,"type":"quantitative","scale":{"domain":[18525.5,18643.5,18706,18715],"range":[0,144,148,159],"nice":false,"zero":false},"title":null},"x2":{"datum":18642.7},"y":{"field":"v","type":"quantitative","scale":{"type":"log","domain":[0.000482,1],"nice":false},"title":null},"color":{"field":"p","type":"quantitative","scale":{"domain":[-0.5,13.5],"scheme":{"name":"oranges","extent":[0.1,1]}},"legend":{"orient":"none","legendX":51,"legendY":45,"direction":"horizontal","gradientLength":101,"gradientThickness":13,"title":"Patch","titleOrient":"bottom","titleAnchor":"middle","titleFont":"DejaVu Sans","titleFontSize":9.5,"titleFontWeight":"normal","titleColor":"#222","titlePadding":2,"labelFont":"DejaVu Sans","labelFontSize":9.5,"labelColor":"#222","values":[0,2,4,6,8,10,12],"gradientStrokeColor":"#555","gradientStrokeWidth":0.6,"padding":0,"labelOverlap":false,"labelOffset":3}}}},
  {"data":{"name":"p5"},"mark":{"type":"rule","strokeWidth":0.8},"encoding":{"x":{"datum":18682,"type":"quantitative","scale":{"domain":[18525.5,18643.5,18706,18715],"range":[0,144,148,159],"nice":false,"zero":false},"title":null},"x2":{"datum":18715},"y":{"field":"v","type":"quantitative","scale":{"type":"log","domain":[0.000482,1],"nice":false},"title":null},"color":{"field":"p","type":"quantitative","scale":{"domain":[-0.5,13.5],"scheme":{"name":"oranges","extent":[0.1,1]}}}}},
  {"data":{"name":"k5"},"mark":{"type":"rule","color":"#b84a0c","strokeWidth":1,"opacity":0.7},"encoding":{"x":{"field":"e","type":"quantitative","scale":{"domain":[18525.5,18643.5,18706,18715],"range":[0,144,148,159],"nice":false,"zero":false},"title":null},"y":{"field":"lo","type":"quantitative","scale":{"type":"log","domain":[0.000482,1],"nice":false},"title":null},"y2":{"field":"hi"}}},
  {"data":{"name":"c5"},"mark":{"type":"line","color":"#b5460a","strokeWidth":1.6},"encoding":{"x":{"field":"e","type":"quantitative","scale":{"domain":[18525.5,18643.5,18706,18715],"range":[0,144,148,159],"nice":false,"zero":false},"axis":{"values":[18526.67,18540,18553.33,18566.67,18580,18593.33,18606.67,18620,18633.33,18710],"labels":false,"title":null,"tickSize":4}},"y":{"field":"r","type":"quantitative","scale":{"type":"log","domain":[0.000482,1],"nice":false},"axis":{"values":[0.0005,0.0006,0.0007,0.0008,0.0009,0.001,0.002,0.003,0.004,0.005,0.006,0.007,0.008,0.009,0.01,0.02,0.03,0.04,0.05,0.06,0.07,0.08,0.09,0.1,0.2,0.3,0.4,0.5,0.6,0.7,0.8,0.9,1],"labels":false,"tickSize":{"condition":{"test":"datum.value==1||datum.value==0.1||datum.value==0.01||datum.value==0.001","value":5},"value":2.5},"title":null}}}},
  {"data":{"name":"c5"},"transform":[{"filter":"datum.d==1"}],"mark":{"type":"point","filled":true,"color":"#6b2103","size":8,"opacity":1},"encoding":{"x":{"field":"e","type":"quantitative","scale":{"domain":[18525.5,18643.5,18706,18715],"range":[0,144,148,159],"nice":false,"zero":false},"title":null},"y":{"field":"r","type":"quantitative","scale":{"type":"log","domain":[0.000482,1],"nice":false},"title":null}}},
  {"data":{"values":[{"k":"Data  KNM4-NOM"},{"k":"Fit result KNM4-NOM"}]},"mark":{"type":"point","filled":false,"color":"#ff7f0e","strokeWidth":1.3,"opacity":0},"encoding":{"shape":{"field":"k","type":"nominal","scale":{"domain":["Data  KNM4-NOM","Fit result KNM4-NOM"],"range":["M0.62,-0.6V0.6M0.4,0A0.22,0.22,0,1,0,0.84,0A0.22,0.22,0,1,0,0.4,0","M-0.69,0H2.38"]},"legend":{"title":null,"orient":"top-right","offset":4,"padding":3,"strokeColor":"#cccccc","fillColor":"#ffffff","cornerRadius":3,"labelFont":"DejaVu Sans","labelFontSize":9.5,"labelColor":"#222","labelAlign":"left","symbolSize":169,"labelOffset":15,"rowPadding":1,"symbolStrokeWidth":1.3,"encode":{"symbols":{"update":{"fill":{"value":"#ff7f0e"},"stroke":[{"test":"indexof(datum.value,'Fit')==0","value":"#ffbb78"},{"value":"#ff7f0e"}],"strokeWidth":{"value":1.3},"opacity":{"value":1}}}}}}}}
 ]},
 {"width":159,"height":267,"layer":[
  {"data":{"name":"p6"},"mark":{"type":"rule","strokeWidth":0.8},"encoding":{"x":{"datum":18569,"type":"quantitative","scale":{"domain":[18525.5,18643.5,18706,18715],"range":[0,144,148,159],"nice":false,"zero":false},"title":null},"x2":{"datum":18642.7},"y":{"field":"v","type":"quantitative","scale":{"type":"log","domain":[0.000482,1],"nice":false},"title":null},"color":{"field":"p","type":"quantitative","scale":{"domain":[-0.5,13.5],"scheme":{"name":"oranges","extent":[0.1,1]}},"legend":{"orient":"none","legendX":51,"legendY":45,"direction":"horizontal","gradientLength":101,"gradientThickness":13,"title":"Patch","titleOrient":"bottom","titleAnchor":"middle","titleFont":"DejaVu Sans","titleFontSize":9.5,"titleFontWeight":"normal","titleColor":"#222","titlePadding":2,"labelFont":"DejaVu Sans","labelFontSize":9.5,"labelColor":"#222","values":[0,2,4,6,8,10,12],"gradientStrokeColor":"#555","gradientStrokeWidth":0.6,"padding":0,"labelOverlap":false,"labelOffset":3}}}},
  {"data":{"name":"p6"},"mark":{"type":"rule","strokeWidth":0.8},"encoding":{"x":{"datum":18682,"type":"quantitative","scale":{"domain":[18525.5,18643.5,18706,18715],"range":[0,144,148,159],"nice":false,"zero":false},"title":null},"x2":{"datum":18715},"y":{"field":"v","type":"quantitative","scale":{"type":"log","domain":[0.000482,1],"nice":false},"title":null},"color":{"field":"p","type":"quantitative","scale":{"domain":[-0.5,13.5],"scheme":{"name":"oranges","extent":[0.1,1]}}}}},
  {"data":{"name":"k6"},"mark":{"type":"rule","color":"#b84a0c","strokeWidth":1,"opacity":0.7},"encoding":{"x":{"field":"e","type":"quantitative","scale":{"domain":[18525.5,18643.5,18706,18715],"range":[0,144,148,159],"nice":false,"zero":false},"title":null},"y":{"field":"lo","type":"quantitative","scale":{"type":"log","domain":[0.000482,1],"nice":false},"title":null},"y2":{"field":"hi"}}},
  {"data":{"name":"c6"},"mark":{"type":"line","color":"#b5460a","strokeWidth":1.6},"encoding":{"x":{"field":"e","type":"quantitative","scale":{"domain":[18525.5,18643.5,18706,18715],"range":[0,144,148,159],"nice":false,"zero":false},"axis":{"values":[18526.67,18540,18553.33,18566.67,18580,18593.33,18606.67,18620,18633.33,18710],"labels":false,"title":null,"tickSize":4}},"y":{"field":"r","type":"quantitative","scale":{"type":"log","domain":[0.000482,1],"nice":false},"axis":{"values":[0.0005,0.0006,0.0007,0.0008,0.0009,0.001,0.002,0.003,0.004,0.005,0.006,0.007,0.008,0.009,0.01,0.02,0.03,0.04,0.05,0.06,0.07,0.08,0.09,0.1,0.2,0.3,0.4,0.5,0.6,0.7,0.8,0.9,1],"labels":false,"tickSize":{"condition":{"test":"datum.value==1||datum.value==0.1||datum.value==0.01||datum.value==0.001","value":5},"value":2.5},"title":null}}}},
  {"data":{"name":"c6"},"transform":[{"filter":"datum.d==1"}],"mark":{"type":"point","filled":true,"color":"#6b2103","size":8,"opacity":1},"encoding":{"x":{"field":"e","type":"quantitative","scale":{"domain":[18525.5,18643.5,18706,18715],"range":[0,144,148,159],"nice":false,"zero":false},"title":null},"y":{"field":"r","type":"quantitative","scale":{"type":"log","domain":[0.000482,1],"nice":false},"title":null}}},
  {"data":{"values":[{"k":"Data  KNM4-OPT"},{"k":"Fit result KNM4-OPT"}]},"mark":{"type":"point","filled":false,"color":"#ff7f0e","strokeWidth":1.3,"opacity":0},"encoding":{"shape":{"field":"k","type":"nominal","scale":{"domain":["Data  KNM4-OPT","Fit result KNM4-OPT"],"range":["M0.62,-0.6V0.6M0.4,0A0.22,0.22,0,1,0,0.84,0A0.22,0.22,0,1,0,0.4,0","M-0.69,0H2.38"]},"legend":{"title":null,"orient":"top-right","offset":4,"padding":3,"strokeColor":"#cccccc","fillColor":"#ffffff","cornerRadius":3,"labelFont":"DejaVu Sans","labelFontSize":9.5,"labelColor":"#222","labelAlign":"left","symbolSize":169,"labelOffset":15,"rowPadding":1,"symbolStrokeWidth":1.3,"encode":{"symbols":{"update":{"fill":{"value":"#ff7f0e"},"stroke":[{"test":"indexof(datum.value,'Fit')==0","value":"#ffbb78"},{"value":"#ff7f0e"}],"strokeWidth":{"value":1.3},"opacity":{"value":1}}}}}}}}
 ]},
 {"width":159,"height":267,"layer":[
  {"data":{"name":"p7"},"mark":{"type":"rule","strokeWidth":0.8},"encoding":{"x":{"datum":18568.5,"type":"quantitative","scale":{"domain":[18525.5,18643.5,18706,18715],"range":[0,144,148,159],"nice":false,"zero":false},"title":null},"x2":{"datum":18642.7},"y":{"field":"v","type":"quantitative","scale":{"type":"log","domain":[0.000482,1],"nice":false},"title":null},"color":{"field":"p","type":"quantitative","scale":{"domain":[-0.5,13.5],"scheme":{"name":"purples","extent":[0.1,1]}},"legend":{"orient":"none","legendX":51,"legendY":45,"direction":"horizontal","gradientLength":101,"gradientThickness":13,"title":"Patch","titleOrient":"bottom","titleAnchor":"middle","titleFont":"DejaVu Sans","titleFontSize":9.5,"titleFontWeight":"normal","titleColor":"#222","titlePadding":2,"labelFont":"DejaVu Sans","labelFontSize":9.5,"labelColor":"#222","values":[0,2,4,6,8,10,12],"gradientStrokeColor":"#555","gradientStrokeWidth":0.6,"padding":0,"labelOverlap":false,"labelOffset":3}}}},
  {"data":{"name":"p7"},"mark":{"type":"rule","strokeWidth":0.8},"encoding":{"x":{"datum":18682,"type":"quantitative","scale":{"domain":[18525.5,18643.5,18706,18715],"range":[0,144,148,159],"nice":false,"zero":false},"title":null},"x2":{"datum":18715},"y":{"field":"v","type":"quantitative","scale":{"type":"log","domain":[0.000482,1],"nice":false},"title":null},"color":{"field":"p","type":"quantitative","scale":{"domain":[-0.5,13.5],"scheme":{"name":"purples","extent":[0.1,1]}}}}},
  {"data":{"name":"k7"},"mark":{"type":"rule","color":"#54278f","strokeWidth":1,"opacity":0.7},"encoding":{"x":{"field":"e","type":"quantitative","scale":{"domain":[18525.5,18643.5,18706,18715],"range":[0,144,148,159],"nice":false,"zero":false},"title":null},"y":{"field":"lo","type":"quantitative","scale":{"type":"log","domain":[0.000482,1],"nice":false},"title":null},"y2":{"field":"hi"}}},
  {"data":{"name":"c7"},"mark":{"type":"line","color":"#5a2a9a","strokeWidth":1.6},"encoding":{"x":{"field":"e","type":"quantitative","scale":{"domain":[18525.5,18643.5,18706,18715],"range":[0,144,148,159],"nice":false,"zero":false},"axis":{"values":[18526.67,18540,18553.33,18566.67,18580,18593.33,18606.67,18620,18633.33,18710],"labels":false,"title":null,"tickSize":4}},"y":{"field":"r","type":"quantitative","scale":{"type":"log","domain":[0.000482,1],"nice":false},"axis":{"values":[0.0005,0.0006,0.0007,0.0008,0.0009,0.001,0.002,0.003,0.004,0.005,0.006,0.007,0.008,0.009,0.01,0.02,0.03,0.04,0.05,0.06,0.07,0.08,0.09,0.1,0.2,0.3,0.4,0.5,0.6,0.7,0.8,0.9,1],"labels":false,"tickSize":{"condition":{"test":"datum.value==1||datum.value==0.1||datum.value==0.01||datum.value==0.001","value":5},"value":2.5},"title":null}}}},
  {"data":{"name":"c7"},"transform":[{"filter":"datum.d==1"}],"mark":{"type":"point","filled":true,"color":"#3f007d","size":8,"opacity":1},"encoding":{"x":{"field":"e","type":"quantitative","scale":{"domain":[18525.5,18643.5,18706,18715],"range":[0,144,148,159],"nice":false,"zero":false},"title":null},"y":{"field":"r","type":"quantitative","scale":{"type":"log","domain":[0.000482,1],"nice":false},"title":null}}},
  {"data":{"values":[{"k":"Data  KNM5"},{"k":"Fit result KNM5"}]},"mark":{"type":"point","filled":false,"color":"#6a1b7a","strokeWidth":1.3,"opacity":0},"encoding":{"shape":{"field":"k","type":"nominal","scale":{"domain":["Data  KNM5","Fit result KNM5"],"range":["M0.62,-0.6V0.6M0.4,0A0.22,0.22,0,1,0,0.84,0A0.22,0.22,0,1,0,0.4,0","M-0.69,0H2.38"]},"legend":{"title":null,"orient":"top-right","offset":4,"padding":3,"strokeColor":"#cccccc","fillColor":"#ffffff","cornerRadius":3,"labelFont":"DejaVu Sans","labelFontSize":9.5,"labelColor":"#222","labelAlign":"left","symbolSize":169,"labelOffset":15,"rowPadding":1,"symbolStrokeWidth":1.3,"encode":{"symbols":{"update":{"fill":{"value":"#6a1b7a"},"stroke":[{"test":"indexof(datum.value,'Fit')==0","value":"#c890d0"},{"value":"#6a1b7a"}],"strokeWidth":{"value":1.3},"opacity":{"value":1}}}}}}}}
 ]}
],"spacing":12,"bounds":"flush","resolve":{"scale":{"color":"independent","shape":"independent"},"legend":{"color":"independent","shape":"independent"}}},
{"hconcat":[
 {"width":159,"height":134,"resolve":{"axis":{"x":"independent","y":"independent"}},"layer":[
  {"data":{"name":"bands"},"mark":{"type":"rect","color":"#2ca02c","opacity":0.1},"encoding":{"x":{"field":"x1","type":"quantitative","scale":{"domain":[18525.5,18643.5,18706,18715],"range":[0,144,148,159],"nice":false,"zero":false},"title":null,"axis":{"orient":"bottom","values":[18526.67,18540,18553.33,18566.67,18580,18593.33,18606.67,18620,18633.33,18710],"labels":false,"title":null,"tickSize":4}},"x2":{"field":"x2"},"y":{"field":"lo","type":"quantitative","scale":{"domain":[-3.5,3.5],"nice":false,"zero":false},"title":null,"axis":{"orient":"left","values":[-3,-2.5,-2,-1.5,-1,-0.5,0,0.5,1,1.5,2,2.5,3],"labels":false,"tickSize":3.5,"title":null}},"y2":{"field":"hi"}}},
  {"data":{"name":"bands"},"transform":[{"filter":"datum.lo==-1"}],"mark":{"type":"rule","color":"#2ca02c","opacity":0.35,"strokeWidth":1.5},"encoding":{"x":{"field":"x1","type":"quantitative","scale":{"domain":[18525.5,18643.5,18706,18715],"range":[0,144,148,159],"nice":false,"zero":false},"title":null,"axis":{"orient":"bottom","values":[18540,18580,18620,18710],"format":"d","ticks":false,"labelPadding":6,"title":null}},"x2":{"field":"x2"},"y":{"datum":0,"type":"quantitative","scale":{"domain":[-3.5,3.5],"nice":false,"zero":false},"title":"Residuals","axis":{"orient":"left","values":[-2,0,2],"format":"d","ticks":false,"labelPadding":5.5,"title":"Residuals","titlePadding":12}}}},
  {"data":{"name":"r1"},"mark":{"type":"point","filled":true,"color":"#2ca02c","size":6,"opacity":1},"encoding":{"x":{"field":"e","type":"quantitative","scale":{"domain":[18525.5,18643.5,18706,18715],"range":[0,144,148,159],"nice":false,"zero":false},"axis":null},"y":{"field":"r","type":"quantitative","scale":{"domain":[-3.5,3.5],"nice":false,"zero":false},"axis":null}}}
 ]},
 {"width":159,"height":134,"resolve":{"axis":{"x":"independent"}},"layer":[
  {"data":{"name":"bands"},"mark":{"type":"rect","color":"#1f77b4","opacity":0.1},"encoding":{"x":{"field":"x1","type":"quantitative","scale":{"domain":[18525.5,18643.5,18706,18715],"range":[0,144,148,159],"nice":false,"zero":false},"title":null,"axis":{"orient":"bottom","values":[18526.67,18540,18553.33,18566.67,18580,18593.33,18606.67,18620,18633.33,18710],"labels":false,"title":null,"tickSize":4}},"x2":{"field":"x2"},"y":{"field":"lo","type":"quantitative","scale":{"domain":[-3.5,3.5],"nice":false,"zero":false},"title":null,"axis":{"values":[-3,-2.5,-2,-1.5,-1,-0.5,0,0.5,1,1.5,2,2.5,3],"labels":false,"tickSize":3.5,"title":null}},"y2":{"field":"hi"}}},
  {"data":{"name":"bands"},"transform":[{"filter":"datum.lo==-1"}],"mark":{"type":"rule","color":"#1f77b4","opacity":0.35,"strokeWidth":1.5},"encoding":{"x":{"field":"x1","type":"quantitative","scale":{"domain":[18525.5,18643.5,18706,18715],"range":[0,144,148,159],"nice":false,"zero":false},"title":null,"axis":{"orient":"bottom","values":[18540,18580,18620,18710],"format":"d","ticks":false,"labelPadding":6,"title":null}},"x2":{"field":"x2"},"y":{"datum":0,"type":"quantitative","scale":{"domain":[-3.5,3.5],"nice":false,"zero":false},"title":null}}},
  {"data":{"name":"r2"},"mark":{"type":"point","filled":true,"color":"#1f77b4","size":6,"opacity":1},"encoding":{"x":{"field":"e","type":"quantitative","scale":{"domain":[18525.5,18643.5,18706,18715],"range":[0,144,148,159],"nice":false,"zero":false},"axis":null},"y":{"field":"r","type":"quantitative","scale":{"domain":[-3.5,3.5],"nice":false,"zero":false},"title":null}}}
 ]},
 {"width":159,"height":134,"resolve":{"axis":{"x":"independent"}},"layer":[
  {"data":{"name":"bands"},"mark":{"type":"rect","color":"#e34a4a","opacity":0.11},"encoding":{"x":{"field":"x1","type":"quantitative","scale":{"domain":[18525.5,18643.5,18706,18715],"range":[0,144,148,159],"nice":false,"zero":false},"title":null,"axis":{"orient":"bottom","values":[18526.67,18540,18553.33,18566.67,18580,18593.33,18606.67,18620,18633.33,18710],"labels":false,"title":null,"tickSize":4}},"x2":{"field":"x2"},"y":{"field":"lo","type":"quantitative","scale":{"domain":[-3.5,3.5],"nice":false,"zero":false},"title":null,"axis":{"values":[-3,-2.5,-2,-1.5,-1,-0.5,0,0.5,1,1.5,2,2.5,3],"labels":false,"tickSize":3.5,"title":null}},"y2":{"field":"hi"}}},
  {"data":{"name":"bands"},"transform":[{"filter":"datum.lo==-1"}],"mark":{"type":"rule","color":"#e34a4a","opacity":0.35,"strokeWidth":1.5},"encoding":{"x":{"field":"x1","type":"quantitative","scale":{"domain":[18525.5,18643.5,18706,18715],"range":[0,144,148,159],"nice":false,"zero":false},"title":null,"axis":{"orient":"bottom","values":[18540,18580,18620,18710],"format":"d","ticks":false,"labelPadding":6,"title":null}},"x2":{"field":"x2"},"y":{"datum":0,"type":"quantitative","scale":{"domain":[-3.5,3.5],"nice":false,"zero":false},"title":null}}},
  {"data":{"name":"r3"},"mark":{"type":"point","filled":true,"size":7,"opacity":1},"encoding":{"x":{"field":"e","type":"quantitative","scale":{"domain":[18525.5,18643.5,18706,18715],"range":[0,144,148,159],"nice":false,"zero":false},"axis":null},"y":{"field":"r","type":"quantitative","scale":{"domain":[-3.5,3.5],"nice":false,"zero":false},"title":null},"color":{"field":"p","type":"quantitative","scale":{"domain":[-0.5,13.5],"scheme":{"name":"reds","extent":[0.1,1]}},"legend":null}}}
 ]},
 {"width":159,"height":134,"resolve":{"axis":{"x":"independent"}},"layer":[
  {"data":{"name":"bands"},"mark":{"type":"rect","color":"#e05a65","opacity":0.1},"encoding":{"x":{"field":"x1","type":"quantitative","scale":{"domain":[18525.5,18643.5,18706,18715],"range":[0,144,148,159],"nice":false,"zero":false},"title":null,"axis":{"orient":"bottom","values":[18526.67,18540,18553.33,18566.67,18580,18593.33,18606.67,18620,18633.33,18710],"labels":false,"title":null,"tickSize":4}},"x2":{"field":"x2"},"y":{"field":"lo","type":"quantitative","scale":{"domain":[-3.5,3.5],"nice":false,"zero":false},"title":null,"axis":{"values":[-3,-2.5,-2,-1.5,-1,-0.5,0,0.5,1,1.5,2,2.5,3],"labels":false,"tickSize":3.5,"title":null}},"y2":{"field":"hi"}}},
  {"data":{"name":"bands"},"transform":[{"filter":"datum.lo==-1"}],"mark":{"type":"rule","color":"#e05a65","opacity":0.35,"strokeWidth":1.5},"encoding":{"x":{"field":"x1","type":"quantitative","scale":{"domain":[18525.5,18643.5,18706,18715],"range":[0,144,148,159],"nice":false,"zero":false},"title":null,"axis":{"orient":"bottom","values":[18540,18580,18620,18710],"format":"d","ticks":false,"labelPadding":6,"title":null}},"x2":{"field":"x2"},"y":{"datum":0,"type":"quantitative","scale":{"domain":[-3.5,3.5],"nice":false,"zero":false},"title":null}}},
  {"data":{"name":"r4"},"mark":{"type":"point","filled":true,"color":"#d6505a","size":6,"opacity":1},"encoding":{"x":{"field":"e","type":"quantitative","scale":{"domain":[18525.5,18643.5,18706,18715],"range":[0,144,148,159],"nice":false,"zero":false},"axis":null},"y":{"field":"r","type":"quantitative","scale":{"domain":[-3.5,3.5],"nice":false,"zero":false},"title":null}}}
 ]},
 {"width":159,"height":134,"resolve":{"axis":{"x":"independent"}},"layer":[
  {"data":{"name":"bands"},"mark":{"type":"rect","color":"#fd8d3c","opacity":0.12},"encoding":{"x":{"field":"x1","type":"quantitative","scale":{"domain":[18525.5,18643.5,18706,18715],"range":[0,144,148,159],"nice":false,"zero":false},"title":null,"axis":{"orient":"bottom","values":[18526.67,18540,18553.33,18566.67,18580,18593.33,18606.67,18620,18633.33,18710],"labels":false,"title":null,"tickSize":4}},"x2":{"field":"x2"},"y":{"field":"lo","type":"quantitative","scale":{"domain":[-3.5,3.5],"nice":false,"zero":false},"title":null,"axis":{"values":[-3,-2.5,-2,-1.5,-1,-0.5,0,0.5,1,1.5,2,2.5,3],"labels":false,"tickSize":3.5,"title":null}},"y2":{"field":"hi"}}},
  {"data":{"name":"bands"},"transform":[{"filter":"datum.lo==-1"}],"mark":{"type":"rule","color":"#fd8d3c","opacity":0.4,"strokeWidth":1.5},"encoding":{"x":{"field":"x1","type":"quantitative","scale":{"domain":[18525.5,18643.5,18706,18715],"range":[0,144,148,159],"nice":false,"zero":false},"title":null,"axis":{"orient":"bottom","values":[18540,18580,18620,18710],"format":"d","ticks":false,"labelPadding":6,"title":null}},"x2":{"field":"x2"},"y":{"datum":0,"type":"quantitative","scale":{"domain":[-3.5,3.5],"nice":false,"zero":false},"title":null}}},
  {"data":{"name":"r5"},"mark":{"type":"point","filled":true,"size":7,"opacity":1},"encoding":{"x":{"field":"e","type":"quantitative","scale":{"domain":[18525.5,18643.5,18706,18715],"range":[0,144,148,159],"nice":false,"zero":false},"axis":null},"y":{"field":"r","type":"quantitative","scale":{"domain":[-3.5,3.5],"nice":false,"zero":false},"title":null},"color":{"field":"p","type":"quantitative","scale":{"domain":[-0.5,13.5],"scheme":{"name":"oranges","extent":[0.1,1]}},"legend":null}}}
 ]},
 {"width":159,"height":134,"resolve":{"axis":{"x":"independent"}},"layer":[
  {"data":{"name":"bands"},"mark":{"type":"rect","color":"#fd8d3c","opacity":0.12},"encoding":{"x":{"field":"x1","type":"quantitative","scale":{"domain":[18525.5,18643.5,18706,18715],"range":[0,144,148,159],"nice":false,"zero":false},"title":null,"axis":{"orient":"bottom","values":[18526.67,18540,18553.33,18566.67,18580,18593.33,18606.67,18620,18633.33,18710],"labels":false,"title":null,"tickSize":4}},"x2":{"field":"x2"},"y":{"field":"lo","type":"quantitative","scale":{"domain":[-3.5,3.5],"nice":false,"zero":false},"title":null,"axis":{"values":[-3,-2.5,-2,-1.5,-1,-0.5,0,0.5,1,1.5,2,2.5,3],"labels":false,"tickSize":3.5,"title":null}},"y2":{"field":"hi"}}},
  {"data":{"name":"bands"},"transform":[{"filter":"datum.lo==-1"}],"mark":{"type":"rule","color":"#fd8d3c","opacity":0.4,"strokeWidth":1.5},"encoding":{"x":{"field":"x1","type":"quantitative","scale":{"domain":[18525.5,18643.5,18706,18715],"range":[0,144,148,159],"nice":false,"zero":false},"title":null,"axis":{"orient":"bottom","values":[18540,18580,18620,18710],"format":"d","ticks":false,"labelPadding":6,"title":null}},"x2":{"field":"x2"},"y":{"datum":0,"type":"quantitative","scale":{"domain":[-3.5,3.5],"nice":false,"zero":false},"title":null}}},
  {"data":{"name":"r6"},"mark":{"type":"point","filled":true,"size":7,"opacity":1},"encoding":{"x":{"field":"e","type":"quantitative","scale":{"domain":[18525.5,18643.5,18706,18715],"range":[0,144,148,159],"nice":false,"zero":false},"axis":null},"y":{"field":"r","type":"quantitative","scale":{"domain":[-3.5,3.5],"nice":false,"zero":false},"title":null},"color":{"field":"p","type":"quantitative","scale":{"domain":[-0.5,13.5],"scheme":{"name":"oranges","extent":[0.1,1]}},"legend":null}}}
 ]},
 {"width":159,"height":134,"resolve":{"axis":{"x":"independent"}},"layer":[
  {"data":{"name":"bands"},"mark":{"type":"rect","color":"#9b4fb5","opacity":0.1},"encoding":{"x":{"field":"x1","type":"quantitative","scale":{"domain":[18525.5,18643.5,18706,18715],"range":[0,144,148,159],"nice":false,"zero":false},"title":null,"axis":{"orient":"bottom","values":[18526.67,18540,18553.33,18566.67,18580,18593.33,18606.67,18620,18633.33,18710],"labels":false,"title":null,"tickSize":4}},"x2":{"field":"x2"},"y":{"field":"lo","type":"quantitative","scale":{"domain":[-3.5,3.5],"nice":false,"zero":false},"title":null,"axis":{"values":[-3,-2.5,-2,-1.5,-1,-0.5,0,0.5,1,1.5,2,2.5,3],"labels":false,"tickSize":3.5,"title":null}},"y2":{"field":"hi"}}},
  {"data":{"name":"bands"},"transform":[{"filter":"datum.lo==-1"}],"mark":{"type":"rule","color":"#9b4fb5","opacity":0.4,"strokeWidth":1.5},"encoding":{"x":{"field":"x1","type":"quantitative","scale":{"domain":[18525.5,18643.5,18706,18715],"range":[0,144,148,159],"nice":false,"zero":false},"title":null,"axis":{"orient":"bottom","values":[18540,18580,18620,18710],"format":"d","ticks":false,"labelPadding":6,"title":null}},"x2":{"field":"x2"},"y":{"datum":0,"type":"quantitative","scale":{"domain":[-3.5,3.5],"nice":false,"zero":false},"title":null}}},
  {"data":{"name":"r7"},"mark":{"type":"point","filled":true,"size":7,"opacity":1},"encoding":{"x":{"field":"e","type":"quantitative","scale":{"domain":[18525.5,18643.5,18706,18715],"range":[0,144,148,159],"nice":false,"zero":false},"axis":null},"y":{"field":"r","type":"quantitative","scale":{"domain":[-3.5,3.5],"nice":false,"zero":false},"title":null},"color":{"field":"p","type":"quantitative","scale":{"domain":[-0.5,13.5],"scheme":{"name":"purples","extent":[0.1,1]}},"legend":null}}}
 ]}
],"spacing":12,"bounds":"flush","resolve":{"scale":{"color":"independent","shape":"independent"},"legend":{"color":"independent","shape":"independent"}}}
]
}
